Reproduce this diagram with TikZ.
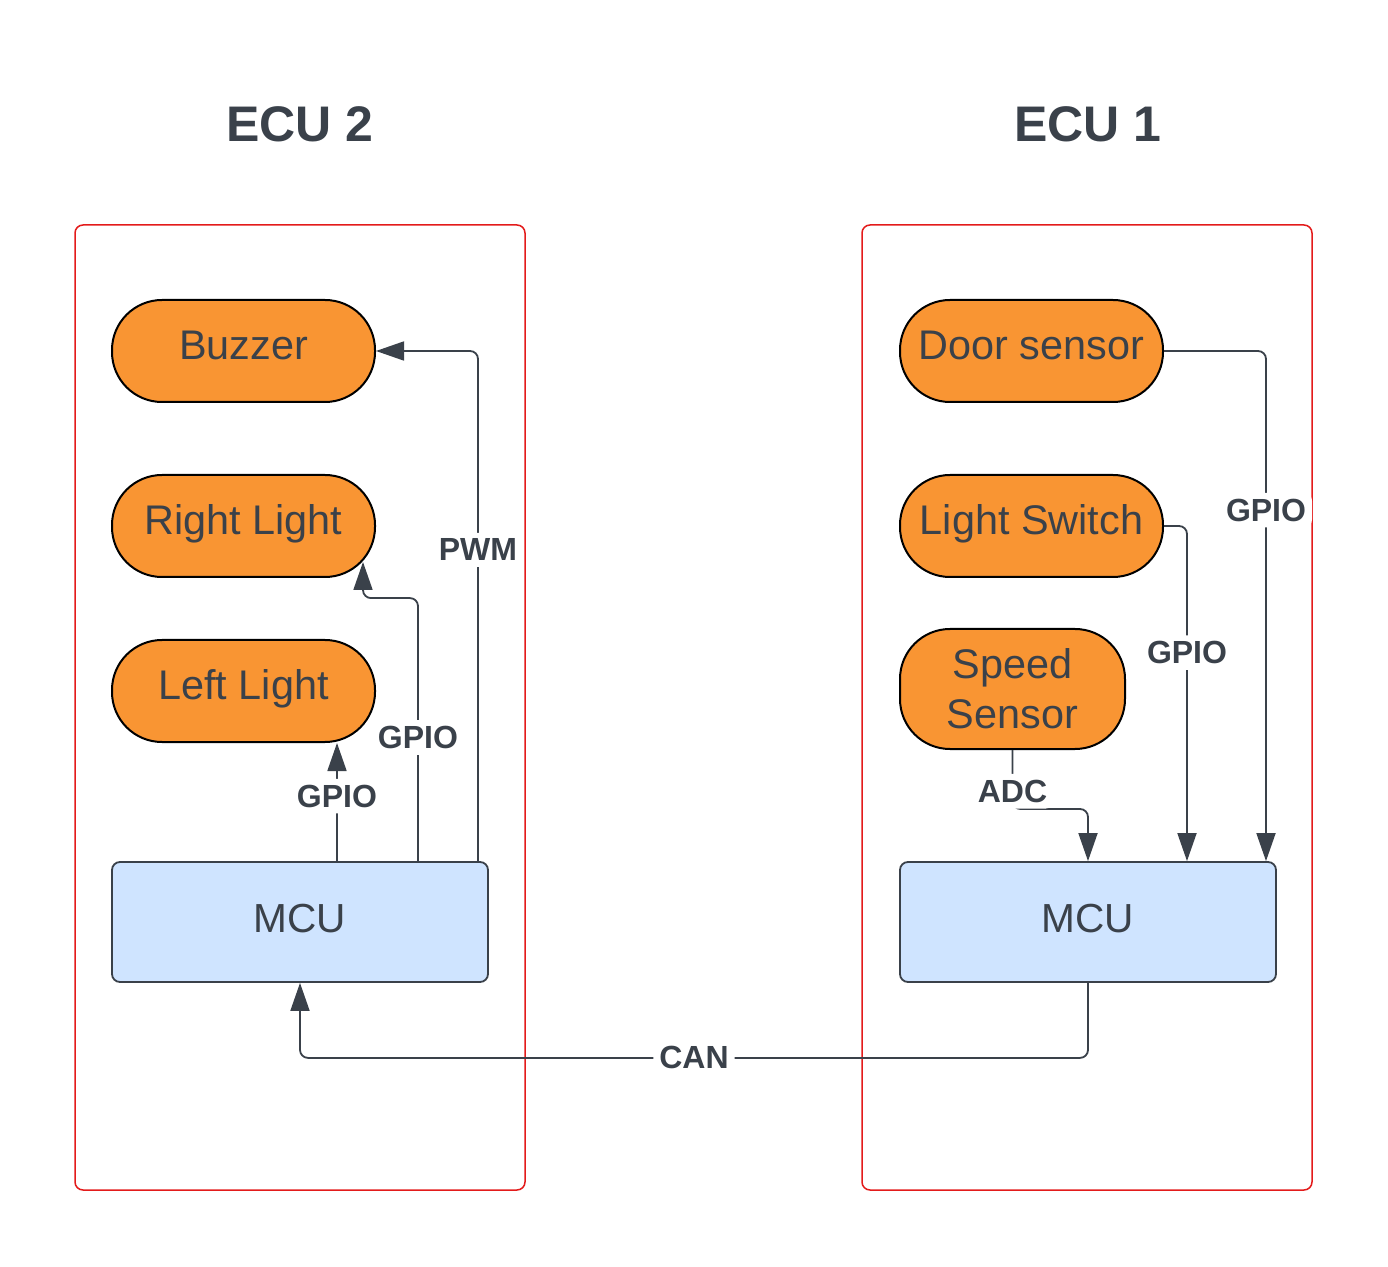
\documentclass[tikz,border=0pt]{standalone}
\usepackage{fontspec}
\setmainfont{Liberation Sans}
\usetikzlibrary{arrows.meta, positioning}
\definecolor{inkC}{HTML}{3A414A}
\definecolor{orangeC}{HTML}{F99533}
\definecolor{blueC}{HTML}{CFE4FF}
\definecolor{redC}{HTML}{E31B1B}
\tikzstyle{ecuBox} = [rectangle, minimum width=225pt, minimum height=482.5pt, rounded corners=4pt, draw=redC, line width=0.75pt]
\tikzstyle{pillNode} = [rectangle, minimum width=131.5pt, minimum height=51pt, text centered, rounded corners=25pt, draw=black, line width=1pt, fill=orangeC, text=inkC, text height=15pt, text depth=6.5pt, font=\fontsize{20.7}{25}\selectfont]
\tikzstyle{mcuNode} = [rectangle, minimum width=188pt, minimum height=60pt, text centered, rounded corners=4pt, draw=inkC, line width=0.9pt, fill=blueC, text=inkC, text height=15pt, text depth=5pt, font=\fontsize{20.3}{24}\selectfont]
\tikzstyle{tNode} = [text=inkC, font=\bfseries\fontsize{25}{30}\selectfont]
\tikzstyle{lNode} = [fill=white, inner sep=3pt, text=inkC, font=\bfseries\fontsize{16}{19}\selectfont]
\tikzstyle{arrowD} = [line width=0.9pt, draw=inkC, rounded corners=4pt, -{Triangle[length=14pt, width=9.5pt]}]

\begin{document}
\begin{tikzpicture}[x=1pt, y=1pt, node distance=30pt]
        \useasboundingbox (0,0) rectangle (694,633);
        \node (ecuTwoBox) [ecuBox] at (150,279.25) {};
        \node (ecuOneBox) [ecuBox] at (543.5,279.25) {};
        \node (ecuTwo) [tNode] at (150,571) {ECU 2};
        \node (ecuOne) [tNode] at (544,571) {ECU 1};

        \node (buzzer) [pillNode] at (121.75,457.5) {Buzzer};
        \node (rightL) [pillNode, below=35.5pt of buzzer] {Right Light};
        \node (leftL) [pillNode, below=30.5pt of rightL] {Left Light};
        \node (mcuTwo) [mcuNode] at (150,172) {MCU};

        \node (door) [pillNode] at (515.75,457.5) {Door sensor};
        \node (lswitch) [pillNode, below=35.5pt of door] {Light Switch};
        \node (speed) [pillNode, minimum width=112.5pt, minimum height=60pt, align=center, text height=, text depth=, below=25pt of lswitch.south west, anchor=north west] {Speed\\Sensor};
        \node (mcuOne) [mcuNode] at (544,172) {MCU};

        \coordinate (llPin) at ([xshift=18.5pt]mcuTwo.north);
        \coordinate (rlPin) at ([xshift=59pt]mcuTwo.north);
        \coordinate (bzPin) at ([xshift=89pt]mcuTwo.north);
        \coordinate (dsPin) at ([xshift=89pt]mcuOne.north);
        \coordinate (lsPin) at ([xshift=49.5pt]mcuOne.north);

        \draw [arrowD] (llPin) -- node[lNode, pos=0.55] {GPIO} (llPin |- leftL.south);
        \draw [arrowD] (rlPin) -- node[lNode, pos=0.47] {GPIO} ++(0,131.5) -| ([xshift=-6.5pt, yshift=8pt]rightL.south east);
        \draw [arrowD] (bzPin) |- node[lNode, pos=0.305] {PWM} (buzzer.east);
        \draw [arrowD] (door.east) -| node[lNode, pos=0.656] {GPIO} (dsPin);
        \draw [arrowD] (lswitch.east) -| node[lNode, pos=0.689] {GPIO} (lsPin);
        \draw [arrowD] (speed.south) -- node[lNode, pos=0.7] {ADC} ++(0,-29.5) -| (mcuOne.north);
        \draw [arrowD] (mcuOne.south) -- ++(0,-37.5) -| node[lNode, pos=0.25] {CAN} (mcuTwo.south);
    \end{tikzpicture}
\end{document}
